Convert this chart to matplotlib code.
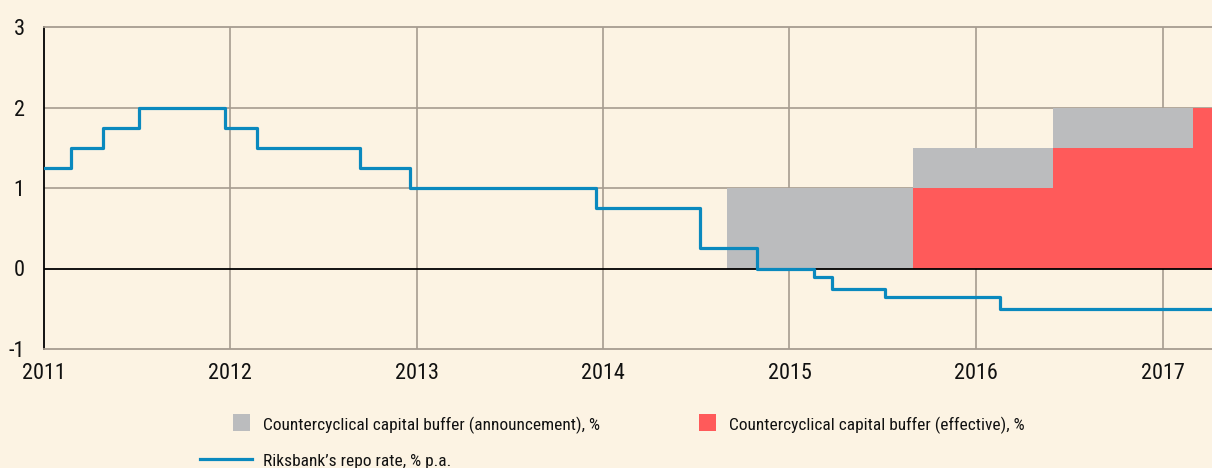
import matplotlib
matplotlib.use("Agg")
import matplotlib.pyplot as plt
import matplotlib.dates as mdates
from matplotlib import font_manager as fm
from matplotlib.patches import Rectangle
from matplotlib.lines import Line2D
import datetime as dt

# ---------------- data ----------------
repo_dates = ["2011-01-01", "2011-02-22", "2011-04-27", "2011-07-06", "2011-12-21",
              "2012-02-22", "2012-09-12", "2012-12-19", "2013-12-18", "2014-07-09",
              "2014-10-29", "2015-02-18", "2015-03-25", "2015-07-08", "2016-02-17",
              "2017-04-10"]
repo_rate = [1.25, 1.50, 1.75, 2.00, 1.75, 1.50, 1.25, 1.00, 0.75, 0.25,
             0.00, -0.10, -0.25, -0.35, -0.50, -0.50]

announce_dates = ["2014-09-01", "2015-09-01", "2016-06-01", "2017-04-10"]
announce_buffer = [1.0, 1.5, 2.0, 2.0]

effective_dates = ["2015-09-01", "2016-06-01", "2017-03-01", "2017-04-10"]
effective_buffer = [1.0, 1.5, 2.0, 2.0]

year_ticks = [2011, 2012, 2013, 2014, 2015, 2016, 2017]
y_ticks = [-1, 0, 1, 2, 3]

labels = ["Countercyclical capital buffer (announcement), %",
          "Countercyclical capital buffer (effective), %",
          "Riksbank\u2019s repo rate, % p.a."]

# ---------------- style ----------------
BG = "#FCF3E3"
GREY = "#BBBCBE"
RED = "#FF5A5A"
BLUE = "#0A89BE"
GRID = "#A69C90"


def pick_font():
    fl = fm.fontManager.ttflist
    for want in ["Liberation Sans Narrow", "Roboto Condensed", "Open Sans Condensed",
                 "Noto Sans Condensed", "DejaVu Sans Condensed"]:
        for f in fl:
            if f.name == want and f.style == "normal" and f.weight in (400, "normal", "regular"):
                return f.name, f.fname
    for f in fl:
        if str(f.stretch) in ("condensed", "semi-condensed", "extra-condensed") \
                and f.style == "normal" and f.weight in (400, "normal", "regular"):
            return f.name, f.fname
    return None, None


fname_name, fpath = pick_font()


def fp(size):
    if fpath:
        p = fm.FontProperties(fname=fpath)
    else:
        p = fm.FontProperties(family="DejaVu Sans")
    p.set_size(size)
    return p


W, H = 1212, 468
fig = plt.figure(figsize=(W / 100, H / 100), dpi=100, facecolor=BG)
ax = fig.add_axes([44 / W, 1 - 349 / H, (W - 44) / W, (349 - 27) / H])
ax.set_facecolor(BG)

to_num = lambda ds: mdates.date2num([dt.datetime.strptime(d, "%Y-%m-%d") for d in ds])
rx = to_num(repo_dates)
axd = to_num(announce_dates)
efd = to_num(effective_dates)

# grid
xt = mdates.date2num([dt.datetime(y, 1, 1) for y in year_ticks])
for x in xt[1:]:
    ax.axvline(x, color=GRID, lw=1.2, zorder=1)
for y in [1, 2]:
    ax.axhline(y, color=GRID, lw=1.2, zorder=1)

ax.fill_between(axd, 0, announce_buffer, step="post", color=GREY, lw=0, zorder=2)
ax.fill_between(efd, 0, effective_buffer, step="post", color=RED, lw=0, zorder=3)
ax.axhline(0, color="black", lw=1.3, zorder=4)
ax.step(rx, repo_rate, where="post", color=BLUE, lw=2.3, zorder=5)

ax.set_xlim(mdates.date2num(dt.datetime(2011, 1, 1)), mdates.date2num(dt.datetime(2017, 4, 8)))
ax.set_ylim(-1, 3)

for s in ["top", "bottom"]:
    ax.spines[s].set_color(GRID)
    ax.spines[s].set_linewidth(1.3)
ax.spines["right"].set_visible(False)
ax.spines["left"].set_color("black")
ax.spines["left"].set_linewidth(1.3)

ax.set_xticks(xt)
ax.set_xticklabels([str(y) for y in year_ticks], fontproperties=fp(16))
ax.set_yticks(y_ticks)
ax.set_yticklabels([str(v) for v in y_ticks], fontproperties=fp(16))
ax.tick_params(axis="both", length=0, colors="#111111")
ax.tick_params(axis="y", pad=14)
ax.tick_params(axis="x", pad=10)

# legend (figure pixel coordinates)
def fx(px):
    return px / W

def fy(py):
    return 1 - py / H

fig.patches.append(Rectangle((fx(233), fy(431)), 17 / W, 17 / H, transform=fig.transFigure,
                             color=GREY, lw=0))
fig.patches.append(Rectangle((fx(699), fy(431)), 17 / W, 17 / H, transform=fig.transFigure,
                             color=RED, lw=0))
fig.lines.append(Line2D([fx(200), fx(252)], [fy(459), fy(459)], transform=fig.transFigure,
                        color=BLUE, lw=2.3))
fig.text(fx(263), fy(430), labels[0], fontproperties=fp(12.5), va="baseline", ha="left", color="#111111")
fig.text(fx(729), fy(430), labels[1], fontproperties=fp(12.5), va="baseline", ha="left", color="#111111")
fig.text(fx(263), fy(466), labels[2], fontproperties=fp(12.5), va="baseline", ha="left", color="#111111")

fig.savefig("out.png", dpi=100, facecolor=BG)
